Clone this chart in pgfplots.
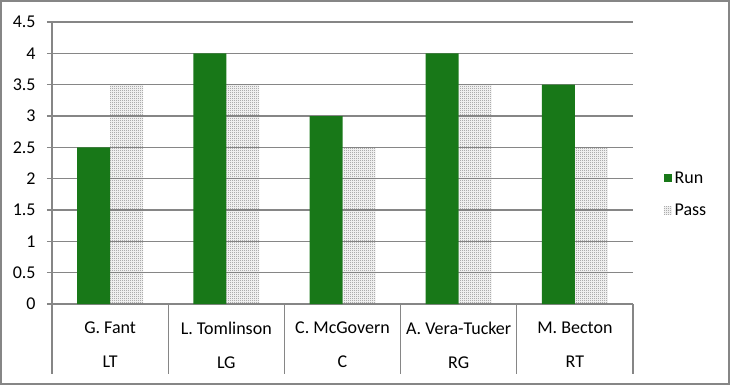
\documentclass[border=0pt]{standalone}
\usepackage{pgfplots}
\pgfplotsset{compat=1.18}
\usepackage{fontspec}
\setmainfont{Carlito}
\usetikzlibrary{patterns}
\definecolor{rungreen}{RGB}{24,120,24}
\definecolor{axgray}{RGB}{134,134,134}
\pgfdeclarepatternformonly{finedots}{\pgfqpoint{0pt}{0pt}}{\pgfqpoint{1.5pt}{1.5pt}}{\pgfqpoint{1.5pt}{1.5pt}}{%
  \pgfpathrectangle{\pgfqpoint{0pt}{0pt}}{\pgfqpoint{0.75pt}{0.75pt}}%
  \pgfpathrectangle{\pgfqpoint{0.75pt}{0.75pt}}{\pgfqpoint{0.75pt}{0.75pt}}%
  \pgfusepath{fill}}
\begin{document}
\begin{tikzpicture}
\useasboundingbox (-39pt,-60.75pt) rectangle (508.5pt,228pt);
\begin{axis}[
  scale only axis,
  width=435.75pt, height=211.5pt,
  at={(0,0)}, anchor=south west,
  xmin=-0.5, xmax=4.5, ymin=0, ymax=4.5,
  axis x line=bottom, axis y line=left,
  axis line style={axgray, line width=1pt, -},
  ytick={0,0.5,...,4.5},
  yticklabels={0,0.5,1,1.5,2,2.5,3,3.5,4,4.5},
  ymajorgrids, grid style={axgray, line width=1pt},
  major tick length=3.75pt,
  tick style={axgray, line width=1pt},
  tick align=outside,
  xtick={0,1,2,3,4},
  xticklabels={G. Fant\\LT, L. Tomlinson\\LG, C. McGovern\\C, A. Vera-Tucker\\RG, M. Becton\\RT},
  xtick style={draw=none},
  xticklabel style={align=center, font=\fontsize{13.5}{25.5}\selectfont, yshift=-6pt},
  yticklabel style={font=\fontsize{13.5}{16}\selectfont, xshift=-5pt},
  /pgf/number format/assume math mode=true,
  ybar, bar width=24.75pt,
  clip=false,
  legend style={draw=none, fill=none, at={(rel axis cs:1,0.388)}, anchor=west, xshift=20pt,
     font=\fontsize{13.5}{16}\selectfont, row sep=10pt, cells={anchor=west}},
  legend image code/.code={\fill[#1] (0pt,-3pt) rectangle (6pt,3pt);},
]
\addplot[bar shift=-12.375pt, fill=rungreen, draw=none] coordinates {(0,2.5) (1,4) (2,3) (3,4) (4,3.5)};
\addplot[bar shift=12.375pt, pattern=finedots, pattern color=black!50, draw=none] coordinates {(0,3.5) (1,3.5) (2,2.5) (3,3.5) (4,2.5)};
\legend{Run, Pass}
\pgfplotsinvokeforeach{-0.5,0.5,1.5,2.5,3.5,4.5}{
  \draw[axgray, line width=1pt] (axis cs:#1,0) -- ++(0pt,-52.5pt);
}
\end{axis}
\draw[axgray, line width=1.2pt] (-38.4pt,-60.15pt) rectangle (507.9pt,227.4pt);
\end{tikzpicture}
\end{document}
